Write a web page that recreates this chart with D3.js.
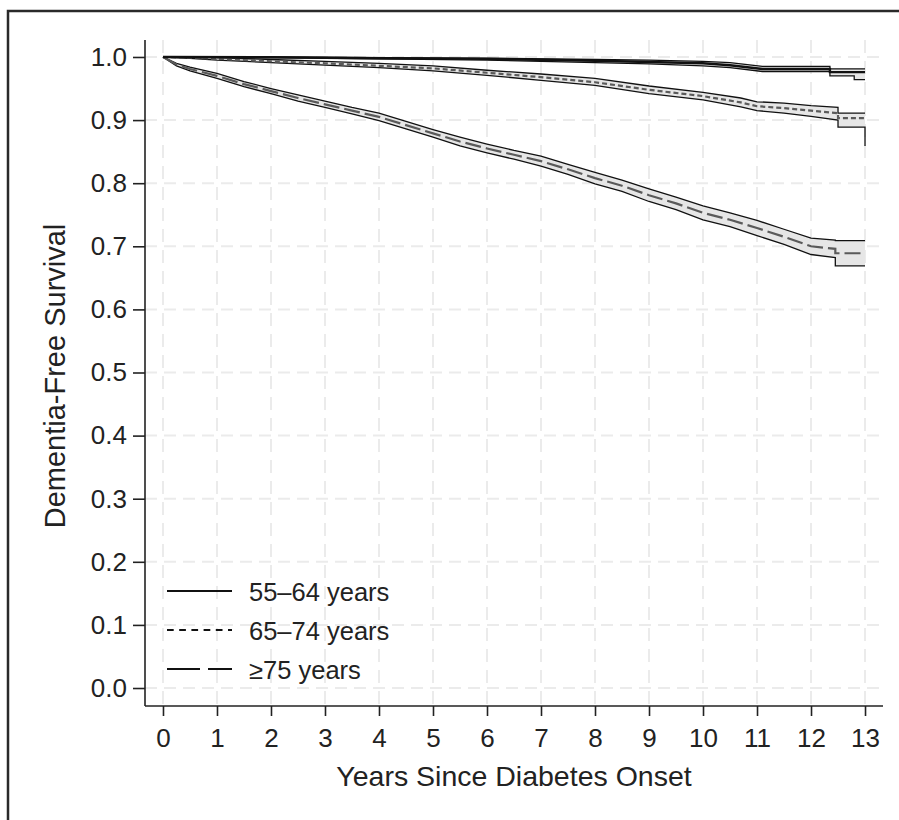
<!DOCTYPE html>
<html><head><meta charset="utf-8">
<script src="https://cdn.jsdelivr.net/npm/d3@7"></script>
<style>
html,body{margin:0;padding:0;background:#fff;}
svg{display:block;}
text{font-family:"Liberation Sans",Arial,sans-serif;fill:#222;}
</style></head><body>
<svg id="chart" width="899" height="820"></svg>
<script>
// ---- data ----
const xTicks = [0,1,2,3,4,5,6,7,8,9,10,11,12,13];
const yTicks = [0,0.1,0.2,0.3,0.4,0.5,0.6,0.7,0.8,0.9,1.0];
const legendLabels = ["55\u201364 years","65\u201374 years","\u226575 years"];

// 55–64 years
const yearsA = [0, 2, 4, 6, 8, 9, 10, 10.5, 11.1, 12.35, 12.35, 12.8, 12.8, 13];
const survA  = [1, 0.9995, 0.998, 0.997, 0.994, 0.992, 0.990, 0.987, 0.981, 0.981, 0.976, 0.976, 0.976, 0.976];
const loA    = [1, 0.999, 0.997, 0.995, 0.991, 0.989, 0.986, 0.983, 0.977, 0.977, 0.970, 0.970, 0.964, 0.964];
const hiA    = [1, 1.0, 0.999, 0.998, 0.996, 0.995, 0.993, 0.991, 0.985, 0.985, 0.981, 0.981, 0.981, 0.981];

// 65–74 years
const yearsB = [0, 0.5, 1, 2, 3, 4, 5, 6, 7, 8, 9, 10, 10.7, 11, 11.5, 12, 12.5, 12.5, 13, 13];
const survB  = [1, 0.999, 0.997, 0.993, 0.990, 0.986, 0.982, 0.975, 0.968, 0.960, 0.948, 0.938, 0.928, 0.922, 0.919, 0.915, 0.911, 0.903, 0.903, 0.903];
const loB    = [1, 0.998, 0.995, 0.991, 0.987, 0.983, 0.978, 0.971, 0.963, 0.955, 0.942, 0.932, 0.921, 0.915, 0.911, 0.906, 0.900, 0.889, 0.889, 0.859];
const hiB    = [1, 1.0, 0.999, 0.996, 0.993, 0.990, 0.986, 0.979, 0.973, 0.966, 0.954, 0.944, 0.935, 0.929, 0.927, 0.923, 0.920, 0.911, 0.911, 0.911];

// ≥75 years
const yearsC = [0, 0.25, 0.5, 1, 1.5, 2, 2.5, 3, 3.5, 4, 4.5, 5, 5.5, 6, 6.5, 7, 7.5, 8, 8.5, 9, 9.5, 10, 10.5, 11, 11.5, 12, 12.45, 12.45, 13];
const survC  = [1, 0.988, 0.981, 0.970, 0.957, 0.946, 0.935, 0.925, 0.915, 0.905, 0.892, 0.879, 0.866, 0.855, 0.845, 0.835, 0.822, 0.808, 0.796, 0.781, 0.768, 0.753, 0.742, 0.729, 0.715, 0.700, 0.696, 0.689, 0.689];
const halfC  = [0, 0.002, 0.003, 0.004, 0.004, 0.004, 0.005, 0.005, 0.005, 0.006, 0.006, 0.006, 0.007, 0.007, 0.007, 0.008, 0.008, 0.009, 0.009, 0.010, 0.010, 0.011, 0.011, 0.012, 0.012, 0.013, 0.014, 0.020, 0.020];

// ---- layout ----
const svg = d3.select("#chart");
const x = d3.scaleLinear().domain([-0.333, 13.333]).range([145, 883]);
const y = d3.scaleLinear().domain([-0.0285, 1.0285]).range([706, 39]);

// frame
svg.append("path").attr("d","M8,820 V11 H899").attr("fill","none").attr("stroke","#2a2a2a").attr("stroke-width",2.5);

// grid
const grid = svg.append("g");
grid.selectAll(".gx").data(xTicks).join("line")
  .attr("x1",d=>x(d)).attr("x2",d=>x(d)).attr("y1",40).attr("y2",706)
  .attr("stroke","#ebebeb").attr("stroke-width",2).attr("stroke-dasharray","13,8");
grid.selectAll(".gy").data(yTicks).join("line")
  .attr("x1",145).attr("x2",883).attr("y1",d=>y(d)).attr("y2",d=>y(d))
  .attr("stroke","#ebebeb").attr("stroke-width",2).attr("stroke-dasharray","12,7");

// curves
const line = d3.line().x(d=>x(d[0])).y(d=>y(d[1]));
const area = d3.area().x(d=>x(d[0])).y0(d=>y(d[1])).y1(d=>y(d[2]));

function series(years, mid, lo, hi, dash, midColor, midWidth){
  const g = svg.append("g");
  const band = years.map((t,i)=>[t, lo[i], hi[i]]);
  g.append("path").attr("d", area(band)).attr("fill","#e6e6e6").attr("stroke","none");
  g.append("path").attr("d", line(years.map((t,i)=>[t, lo[i]]))).attr("fill","none").attr("stroke","#111").attr("stroke-width",1.3);
  g.append("path").attr("d", line(years.map((t,i)=>[t, hi[i]]))).attr("fill","none").attr("stroke","#111").attr("stroke-width",1.3);
  g.append("path").attr("d", line(years.map((t,i)=>[t, mid[i]]))).attr("fill","none")
    .attr("stroke",midColor).attr("stroke-width",midWidth).attr("stroke-dasharray",dash);
}
series(yearsC, survC, survC.map((v,i)=>v-halfC[i]), survC.map((v,i)=>v+halfC[i]), "16,5", "#5a5a5a", 2.2);
series(yearsB, survB, loB, hiB, "5,3", "#5a5a5a", 2.2);
series(yearsA, survA, loA, hiA, null, "#111", 2.4);

// axes
const xAxis = d3.axisBottom(x).tickValues(xTicks).tickSize(10).tickPadding(13).tickFormat(d3.format("d"));
const gx = svg.append("g").attr("transform","translate(0,706)").call(xAxis);
gx.select(".domain").attr("d","M145,0H883").attr("stroke","#222").attr("stroke-width",1.6);
gx.selectAll(".tick line").attr("stroke","#222").attr("stroke-width",1.6);
gx.selectAll("text").attr("font-size",26).attr("font-family","Liberation Sans, Arial, sans-serif").attr("fill","#222");

const yAxis = d3.axisLeft(y).tickValues(yTicks).tickSize(12).tickPadding(6).tickFormat(d3.format(".1f"));
const gy = svg.append("g").attr("transform","translate(145,0)").call(yAxis);
gy.select(".domain").attr("d","M0,40V706").attr("stroke","#222").attr("stroke-width",1.6);
gy.selectAll(".tick line").attr("stroke","#222").attr("stroke-width",1.6);
gy.selectAll("text").attr("font-size",26).attr("font-family","Liberation Sans, Arial, sans-serif").attr("fill","#222");

// axis titles
svg.append("text").attr("x",(x(0)+x(13))/2).attr("y",786).attr("text-anchor","middle")
  .attr("font-size",28.5).text("Years Since Diabetes Onset");
svg.append("text").attr("transform","translate(65,376) rotate(-90)").attr("text-anchor","middle")
  .attr("font-size",29).text("Dementia-Free Survival");

// legend
const legDash = [null, "6.7,5.5", "33,8"];
const legY = [591, 630, 669];
const leg = svg.append("g");
legendLabels.forEach((lab,i)=>{
  leg.append("line").attr("x1",167).attr("x2",232).attr("y1",legY[i]).attr("y2",legY[i])
    .attr("stroke","#111").attr("stroke-width",2.2).attr("stroke-dasharray",legDash[i]);
  leg.append("text").attr("x",249).attr("y",legY[i]+10).attr("font-size",25.5).text(lab);
});
</script>
</body></html>
